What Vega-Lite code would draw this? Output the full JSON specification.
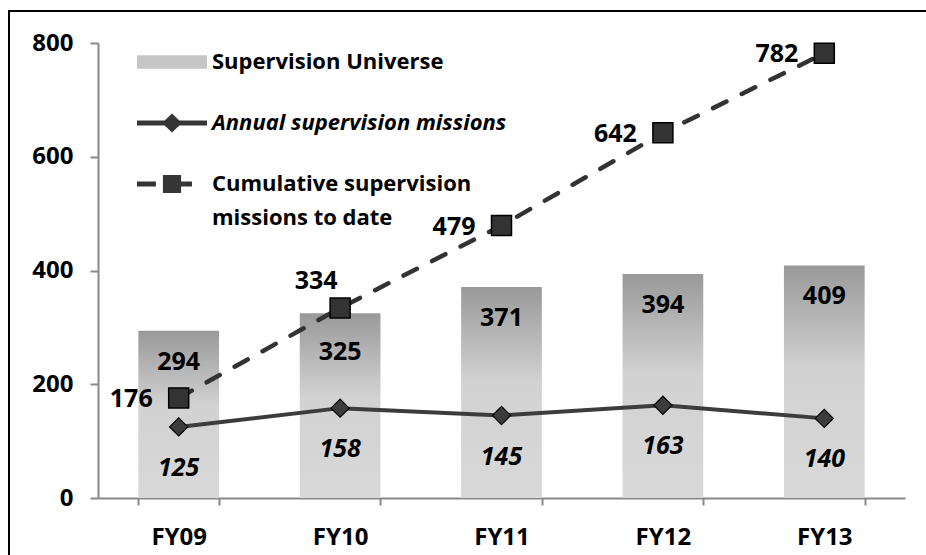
{
  "$schema": "https://vega.github.io/schema/vega-lite/v6.json",
  "autosize": {"type": "none"},
  "width": 923,
  "height": 550,
  "padding": {"left": 9, "top": 11, "right": -6, "bottom": -6},
  "background": "white",
  "config": {
    "font": "Open Sans",
    "view": {"stroke": "#000000", "strokeWidth": 2},
    "style": {"guide-label": {"lineHeight": 34}},
    "axisY": {"grid": false, "offset": -89, "domainColor": "#888888", "domainWidth": 2, "tickColor": "#888888", "tickWidth": 2, "tickSize": 8, "labelFontSize": 24, "labelFontWeight": "bold", "labelColor": "#000000", "labelPadding": 17, "title": null},
    "axisX": {"grid": false, "offset": -63, "domainColor": "#888888", "domainWidth": 2, "tickColor": "#888888", "tickWidth": 2, "tickSize": 7, "tickBand": "extent", "labelFontSize": 24, "labelFontWeight": "bold", "labelColor": "#000000", "labelPadding": 20, "labelAngle": 0, "title": null}
  },
  "data": {
    "values": [
      {"year": "FY09", "universe": 294, "annual": 125, "cumulative": 176},
      {"year": "FY10", "universe": 325, "annual": 158, "cumulative": 334},
      {"year": "FY11", "universe": 371, "annual": 145, "cumulative": 479},
      {"year": "FY12", "universe": 394, "annual": 163, "cumulative": 642},
      {"year": "FY13", "universe": 409, "annual": 140, "cumulative": 782}
    ]
  },
  "encoding": {
    "x": {"field": "year", "type": "nominal", "scale": {"range": [89, 896], "paddingInner": 0.5, "paddingOuter": 0.25}, "axis": {"title": null}}
  },
  "layer": [
    {
      "mark": {"type": "bar", "color": {"gradient": "linear", "x1": 0, "y1": 0, "x2": 0, "y2": 1, "stops": [{"offset": 0, "color": "#999999"}, {"offset": 0.45, "color": "#d2d2d2"}, {"offset": 1, "color": "#d8d8d8"}]}},
      "encoding": {"y": {"field": "universe", "type": "quantitative", "scale": {"domain": [0, 800], "range": [487, 32]}, "axis": {"values": [0, 200, 400, 600, 800], "title": null}}}
    },
    {
      "transform": [{"filter": "datum.year !== 'FY10'"}],
      "mark": {"type": "text", "dy": 31, "fontSize": 25, "fontWeight": "bold", "color": "#000000"},
      "encoding": {"y": {"field": "universe", "type": "quantitative"}, "text": {"field": "universe", "type": "quantitative"}}
    },
    {
      "transform": [{"filter": "datum.year === 'FY10'"}],
      "mark": {"type": "text", "dy": 39, "fontSize": 25, "fontWeight": "bold", "color": "#000000"},
      "encoding": {"y": {"field": "universe", "type": "quantitative"}, "text": {"field": "universe", "type": "quantitative"}}
    },
    {
      "mark": {"type": "line", "color": "#3c3c3c", "strokeWidth": 4},
      "encoding": {"y": {"field": "annual", "type": "quantitative"}}
    },
    {
      "mark": {"type": "point", "shape": "diamond", "filled": true, "fill": "#3c3c3c", "stroke": "#000000", "strokeWidth": 1.2, "size": 330, "opacity": 1},
      "encoding": {"y": {"field": "annual", "type": "quantitative"}}
    },
    {
      "mark": {"type": "text", "dy": 41, "fontSize": 25, "fontWeight": "bold", "fontStyle": "italic", "color": "#000000"},
      "encoding": {"y": {"field": "annual", "type": "quantitative"}, "text": {"field": "annual", "type": "quantitative"}}
    },
    {
      "mark": {"type": "line", "color": "#333333", "strokeWidth": 4.5, "strokeDash": [15, 17], "strokeCap": "round"},
      "encoding": {"y": {"field": "cumulative", "type": "quantitative"}}
    },
    {
      "mark": {"type": "point", "shape": "square", "filled": true, "fill": "#333333", "stroke": "#000000", "strokeWidth": 1.5, "size": 400, "opacity": 1},
      "encoding": {"y": {"field": "cumulative", "type": "quantitative"}}
    },
    {
      "transform": [{"filter": "datum.year !== 'FY10'"}],
      "mark": {"type": "text", "align": "right", "dx": -26, "dy": 1, "fontSize": 25, "fontWeight": "bold", "color": "#000000"},
      "encoding": {"y": {"field": "cumulative", "type": "quantitative"}, "text": {"field": "cumulative", "type": "quantitative"}}
    },
    {
      "transform": [{"filter": "datum.year === 'FY10'"}],
      "mark": {"type": "text", "align": "center", "dx": -24, "dy": -27, "fontSize": 25, "fontWeight": "bold", "color": "#000000"},
      "encoding": {"y": {"field": "cumulative", "type": "quantitative"}, "text": {"field": "cumulative", "type": "quantitative"}}
    },
    {
      "transform": [{"fold": ["universe", "annual", "cumulative"], "as": ["series", "v"]}],
      "mark": {"type": "point", "filled": true, "opacity": 0},
      "encoding": {
        "color": {
          "field": "series", "type": "nominal",
          "scale": {"domain": ["universe", "annual", "cumulative"], "range": ["#c6c6c6", "#353535", "#353535"]},
          "legend": {
            "title": null, "orient": "none", "legendX": 128, "legendY": 16, "direction": "vertical", "padding": 0,
            "symbolSize": 4900, "symbolOpacity": 1, "symbolStrokeWidth": 0,
            "symbolType": {"expr": "datum.value === 'universe' ? 'M-1,-0.19H1V0.19H-1Z' : datum.value === 'annual' ? 'M-1,-0.07H-0.21L0,-0.27L0.21,-0.07H1V0.07H0.21L0,0.27L-0.21,0.07H-1Z' : 'M-1,-0.07H-0.46V0.07H-1Z M-0.26,-0.26H0.26V0.26H-0.26Z M0.26,-0.07H0.57V0.07H0.26Z'"},
            "symbolFillColor": {"expr": "datum.value === 'universe' ? '#c6c6c6' : '#353535'"},
            "labelFontSize": 22, "labelFontWeight": "bold", "labelColor": "#000000",
            "labelFontStyle": {"expr": "datum.value === 'annual' ? 'italic' : 'normal'"},
            "labelLimit": 500, "labelOffset": 5, "rowPadding": 15,
            "labelExpr": "datum.value === 'universe' ? 'Supervision Universe' : datum.value === 'annual' ? 'Annual supervision missions' : ['Cumulative supervision', 'missions to date']"
          }
        }
      }
    }
  ]
}
